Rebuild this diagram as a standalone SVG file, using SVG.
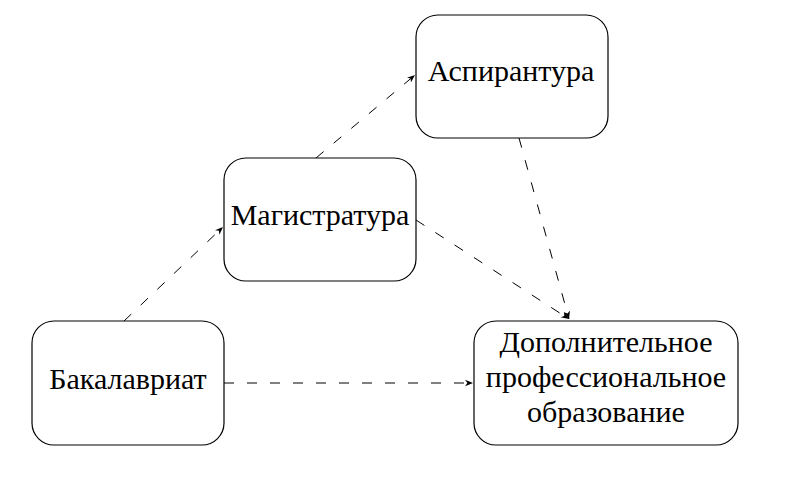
<svg xmlns="http://www.w3.org/2000/svg" width="791" height="494" viewBox="0 0 791 494">
<style>
.box{fill:#fff;stroke:#000;stroke-width:1.2}
.t{font-family:"Liberation Serif","Times New Roman",serif;font-size:30px;fill:#000;text-anchor:middle}
.c{fill:none;stroke:#000;stroke-width:1;stroke-dasharray:10 13}
</style>
<defs>
<marker id="ah" viewBox="0 0 10 10" refX="10" refY="5" markerWidth="8" markerHeight="8" markerUnits="userSpaceOnUse" orient="auto">
<path d="M0,1 L10,5 L0,9 L3,5 Z" fill="#000"/>
</marker>
</defs>
<rect width="791" height="494" fill="#fff"/>
<g id="connectors">
<line class="c" x1="124" y1="321" x2="223" y2="227" marker-end="url(#ah)"/>
<line class="c" x1="316" y1="158" x2="415" y2="75" marker-end="url(#ah)"/>
<line class="c" x1="416" y1="220" x2="569" y2="319" marker-end="url(#ah)"/>
<line class="c" x1="519" y1="138" x2="569" y2="319" marker-end="url(#ah)"/>
<line class="c" x1="224" y1="383" x2="473" y2="383" marker-end="url(#ah)"/>
</g>
<g id="bakalavriat">
<rect class="box" x="32" y="321" width="192" height="124" rx="22"/>
<text class="t" x="128" y="389" font-family="Liberation Serif, serif">Бакалавриат</text>
</g>
<g id="magistratura">
<rect class="box" x="224" y="158" width="192" height="123" rx="22"/>
<text class="t" x="320" y="225" font-family="Liberation Serif, serif">Магистратура</text>
</g>
<g id="aspirantura">
<rect class="box" x="416" y="15" width="192" height="123" rx="22"/>
<text class="t" x="511" y="81" font-family="Liberation Serif, serif">Аспирантура</text>
</g>
<g id="dop">
<rect class="box" x="474" y="321" width="264" height="124" rx="22"/>
<text class="t" x="606" y="352" font-family="Liberation Serif, serif">Дополнительное</text>
<text class="t" x="606" y="387" font-family="Liberation Serif, serif">профессиональное</text>
<text class="t" x="606" y="422" font-family="Liberation Serif, serif">образование</text>
</g>
</svg>
